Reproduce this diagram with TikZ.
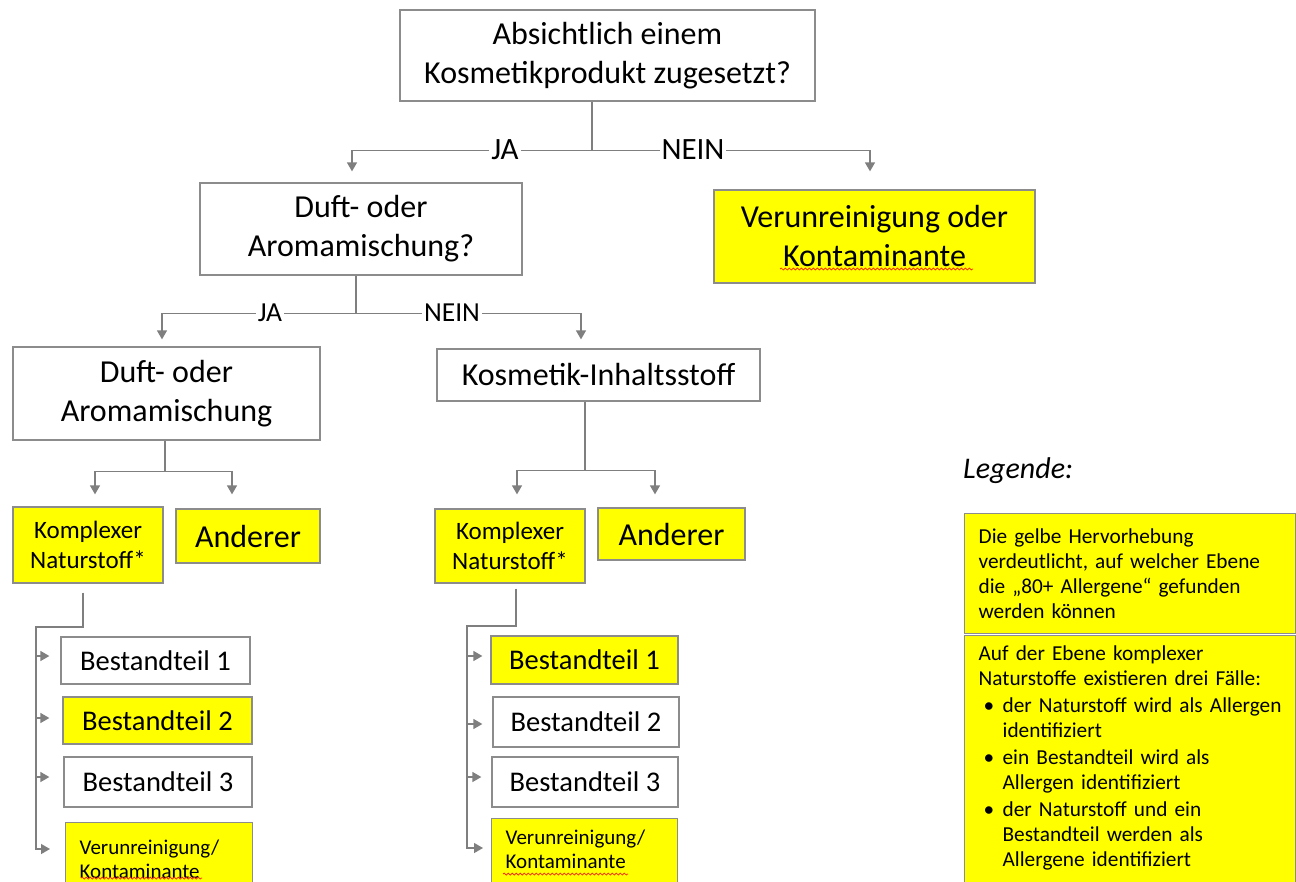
\documentclass[tikz,border=0pt]{standalone}
\usepackage{fontspec}
\setmainfont{Carlito}
\usetikzlibrary{arrows.meta,decorations.pathmorphing}
\definecolor{lgray}{HTML}{8C8C8C}
\definecolor{cgray}{HTML}{7F7F7F}
\definecolor{yel}{HTML}{FFFF00}
\newcommand{\lgbul}{\hspace*{5pt}\makebox[19pt][l]{•}}
\newcommand{\lgind}{\hspace*{24pt}}
\begin{document}
\begin{tikzpicture}[x=1pt,y=-1pt,
  box/.style={draw=lgray,line width=1.3pt,rectangle,inner sep=0pt,align=center},
  ybox/.style={box,fill=yel},
  wbox/.style={box,fill=white},
  conn/.style={draw=cgray,line width=1.4pt},
  arr/.style={conn,-{Triangle[width=10pt,length=9pt]}},
  lbl/.style={fill=white,inner xsep=2pt,inner ysep=1pt},
  wavy/.style={draw=red!80!orange,line width=0.7pt,decorate,decoration={snake,segment length=4pt,amplitude=1pt}},
  fbig/.style={font=\fontsize{32}{39}\selectfont},
  fmid/.style={font=\fontsize{25}{30}\selectfont},
  fbest/.style={font=\fontsize{28.5}{34}\selectfont},
  fsmall/.style={font=\fontsize{21}{23.5}\selectfont},
  flg/.style={font=\fontsize{21.3}{25}\selectfont}
]
\fill[white] (0,0) rectangle (1296,881);
\useasboundingbox (0,0) rectangle (1296,881);

% level 1
\node[wbox,fbig,minimum width=415pt,minimum height=91pt] (q1) at (607.5,55.5) {Absichtlich einem\\Kosmetikprodukt zugesetzt?};
\node[wbox,fbig,minimum width=322pt,minimum height=92pt] (dq) at (361,229) {Duft- oder\\Aromamischung?};
\node[ybox,fbig,minimum width=321pt,minimum height=93pt] (vk) at (874.5,236.5) {Verunreinigung oder\\Kontaminante};

% level 2
\node[wbox,fbig,minimum width=307pt,minimum height=93pt] (dd) at (166.5,393.5) {Duft- oder\\Aromamischung};
\node[wbox,fbig,minimum width=323pt,minimum height=52pt] (ki) at (598.5,375) {Kosmetik-Inhaltsstoff};

% level 3
\node[ybox,fmid,minimum width=150pt,minimum height=76pt] (kl) at (88,545) {Komplexer\\Naturstoff*};
\node[ybox,fbig,minimum width=144pt,minimum height=54pt] (al) at (248,536) {Anderer};
\node[ybox,fmid,minimum width=150pt,minimum height=74pt] (kr) at (510,546) {Komplexer\\Naturstoff*};
\node[ybox,fbig,minimum width=147pt,minimum height=52pt] (ar) at (671.5,534) {Anderer};

% level 4 left
\node[wbox,fbest,minimum width=189pt,minimum height=47pt] (bl1) at (155.5,660.5) {Bestandteil 1};
\node[ybox,fbest,minimum width=189pt,minimum height=47pt] (bl2) at (157.5,720.5) {Bestandteil 2};
\node[wbox,fbest,minimum width=188pt,minimum height=50pt] (bl3) at (158,782) {Bestandteil 3};
\node[ybox,fsmall,anchor=north west,align=left,text width=159pt,inner xsep=14pt,inner ysep=17.5pt] (vl) at (65,822) {Verunreinigung/\\Kontaminante\rule[-20pt]{0pt}{20pt}};

% level 4 right
\node[ybox,fbest,minimum width=187pt,minimum height=48pt] (br1) at (584.5,660) {Bestandteil 1};
\node[wbox,fbest,minimum width=186pt,minimum height=50pt] (br2) at (586,722) {Bestandteil 2};
\node[wbox,fbest,minimum width=186pt,minimum height=50pt] (br3) at (585,782) {Bestandteil 3};
\node[ybox,fsmall,anchor=north west,align=left,text width=158pt,inner xsep=14pt,inner ysep=11.5pt] (vr) at (491,818) {Verunreinigung/\\Kontaminante\rule[-20pt]{0pt}{20pt}};

% legend
\node[font=\fontsize{30}{36}\selectfont\itshape,anchor=base west,inner sep=0pt] (lgt) at (963,478) {Legende:};
\node[ybox,flg,anchor=north west,align=left,text width=303pt,inner xsep=14pt,minimum height=120pt] (lg1) at (964,513)
  {\mbox{Die gelbe Hervorhebung}\\\mbox{verdeutlicht, auf welcher Ebene}\\\mbox{die „80+ Allergene“ gefunden}\\\mbox{werden können}};
\node[ybox,flg,anchor=north west,align=left,text width=303pt,inner xsep=14pt,inner ysep=10pt] (lg2) at (964,635)
  {\mbox{Auf der Ebene komplexer}\\\mbox{Naturstoffe existieren drei Fälle:}\\[2pt]
   \mbox{\lgbul der Naturstoff wird als Allergen}\\\mbox{\lgind identifiziert}\\[2pt]
   \mbox{\lgbul ein Bestandteil wird als}\\\mbox{\lgind Allergen identifiziert}\\[2pt]
   \mbox{\lgbul der Naturstoff und ein}\\\mbox{\lgind Bestandteil werden als}\\\mbox{\lgind Allergene identifiziert}\rule[-30pt]{0pt}{30pt}};

% connectors level 1
\draw[conn] ([xshift=-15.5pt]q1.south) -- ++(0,49) coordinate (s1);
\draw[arr,shorten >=11pt] (s1) -| ([xshift=-9pt]dq.north);
\draw[arr,shorten >=18pt] (s1) -| ([xshift=-4.5pt]vk.north);
\node[lbl,font=\fontsize{31}{36}\selectfont] (ja1) at (505,150) {JA};
\node[lbl,font=\fontsize{31}{36}\selectfont] (nein1) at (693,150) {NEIN};

% connectors level 2
\draw[conn] ([xshift=-5pt]dq.south) -- ++(0,38) coordinate (s2);
\draw[arr,shorten >=7pt] (s2) -| ([xshift=-4.5pt]dd.north);
\draw[arr,shorten >=9pt] (s2) -| ([xshift=-17.5pt]ki.north);
\node[lbl,font=\fontsize{27.5}{32}\selectfont] (ja2) at (270,313) {JA};
\node[lbl,font=\fontsize{27.5}{32}\selectfont] (nein2) at (452,313) {NEIN};

% connectors level 3
\draw[conn] ([xshift=-1.5pt]dd.south) -- ++(0,31) coordinate (s3);
\draw[arr,shorten >=12pt] (s3) -| ([xshift=7pt]kl.north);
\draw[arr,shorten >=14pt] (s3) -| ([xshift=-16pt]al.north);
\draw[conn] ([xshift=-13.5pt]ki.south) -- ++(0,69) coordinate (s4);
\draw[arr,shorten >=14pt] (s4) -| ([xshift=7pt]kr.north);
\draw[arr,shorten >=13pt] (s4) -| ([xshift=-16.5pt]ar.north);

% connectors level 4 left
\coordinate (t1) at (36,627);
\coordinate (a1) at ([yshift=4.5pt]bl1.west);
\coordinate (a2) at ([yshift=2.5pt]bl2.west);
\coordinate (a3) at ([yshift=5pt]bl3.west);
\coordinate (a4) at ([yshift=-27pt]vl.north west);
\draw[arr,shorten >=15pt] ([xshift=-5pt,yshift=-9pt]kl.south) |- (t1) |- (a4);
\draw[arr,shorten >=11pt] (t1 |- a1) -- (a1);
\draw[arr,shorten >=13pt] (t1 |- a2) -- (a2);
\draw[arr,shorten >=14pt] (t1 |- a3) -- (a3);

% connectors level 4 right
\coordinate (t2) at (467,626);
\coordinate (c1) at ([yshift=4pt]br1.west);
\coordinate (c2) at ([yshift=-2pt]br2.west);
\coordinate (c3) at ([yshift=5pt]br3.west);
\coordinate (c4) at ([yshift=-30pt]vr.north west);
\draw[arr,shorten >=8pt] ([xshift=6pt,yshift=-5pt]kr.south) |- (t2) |- (c4);
\draw[arr,shorten >=8pt] (t2 |- c1) -- (c1);
\draw[arr,shorten >=10pt] (t2 |- c2) -- (c2);
\draw[arr,shorten >=10pt] (t2 |- c3) -- (c3);

% spell-check underlines
\draw[wavy] (780,269) -- (973,269);
\draw[wavy] (81,878) -- (202,878);
\draw[wavy] (503,874) -- (628,874);
\end{tikzpicture}
\end{document}
